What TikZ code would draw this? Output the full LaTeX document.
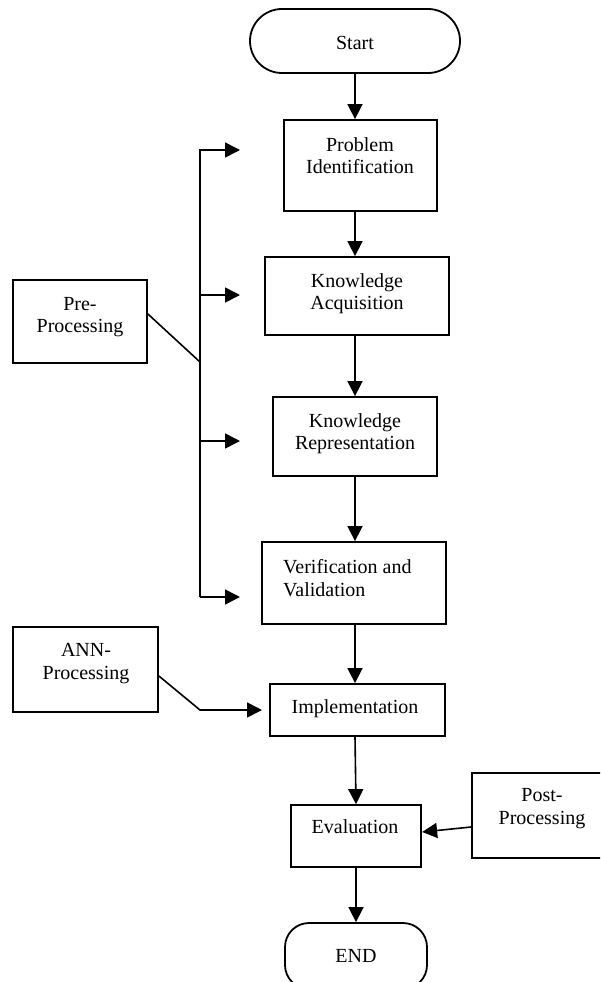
\documentclass[tikz,border=0pt]{standalone}
\usepackage{fontspec}
\setmainfont{Liberation Serif}
\usetikzlibrary{arrows.meta}
\begin{document}
\begin{tikzpicture}[x=1pt,y=-1pt,
  box/.style={draw=black, line width=1.8pt, inner sep=0pt},
  txt/.style={font=\fontsize{20}{22.5}\selectfont, inner sep=0pt, align=center},
  ln/.style={line width=1.6pt},
  arr/.style={line width=1.6pt, -{Triangle[length=15pt,width=15pt]}}]
\useasboundingbox (0,0) rectangle (600,982);
\clip (0,0) rectangle (600,982);
% main column boxes
\node[box, rounded corners=32pt, minimum width=210pt, minimum height=64pt] (start) at (355,41) {};
\node[txt, anchor=base] (startT) at (355,49) {Start};
\node[box, minimum width=153pt, minimum height=91pt] (pi) at (360.5,165.5) {};
\node[txt, anchor=north] (piT) at (360,137.3) {Problem\\Identification};
\node[box, minimum width=184pt, minimum height=78pt] (ka) at (357,296) {};
\node[txt, anchor=north] (kaT) at (357,273.3) {Knowledge\\Acquisition};
\node[box, minimum width=164pt, minimum height=79pt] (kr) at (355,436.5) {};
\node[txt, anchor=north] (krT) at (355,413.3) {Knowledge\\Representation};
\node[box, minimum width=184pt, minimum height=82pt] (vv) at (354,583) {};
\node[txt, align=left, anchor=north west] (vvT) at (283,559.3) {Verification and\\Validation};
\node[box, minimum width=175pt, minimum height=52pt] (impl) at (357.5,710) {};
\node[txt, anchor=base] (implT) at (355,713) {Implementation};
\node[box, minimum width=130.5pt, minimum height=62pt] (eval) at (356,836) {};
\node[txt, anchor=base] (evalT) at (355,833) {Evaluation};
\node[box, rounded corners=24pt, minimum width=142pt, minimum height=66pt] (endb) at (356,956) {};
\node[txt, anchor=base] (endT) at (356,962) {END};
% side boxes
\node[box, minimum width=134pt, minimum height=83pt] (pre) at (80,321.5) {};
\node[txt, anchor=north] (preT) at (80,296.8) {Pre-\\Processing};
\node[box, minimum width=145pt, minimum height=85pt] (ann) at (85.5,669.5) {};
\node[txt, anchor=north] (annT) at (86,643.5) {ANN-\\Processing};
\node[box, minimum width=131pt, minimum height=85pt] (post) at (537.5,815.5) {};
\node[txt, anchor=north] (postT) at (542,788.5) {Post-\\Processing};
% main flow
\draw[arr] (start.south) -- (start.south |- pi.north);
\draw[arr] (start.south |- pi.south) -- (start.south |- ka.north);
\draw[arr] (start.south |- ka.south) -- (start.south |- kr.north);
\draw[arr] (start.south |- kr.south) -- (start.south |- vv.north);
\draw[arr] (start.south |- vv.south) -- (start.south |- impl.north);
\draw[arr] (start.south |- impl.south) -- (eval.north);
\draw[arr] (eval.south) -- (eval.south |- endb.north);
% pre-processing bracket
\coordinate (bt) at (200,150);
\coordinate (bb) at (200,597);
\coordinate (bj) at (200,362);
\coordinate (a1) at (240,150);
\coordinate (a2) at (240,295);
\coordinate (a3) at (240,441);
\coordinate (a4) at (240,597);
\draw[ln] ([yshift=7.5pt]pre.east) -- (bj);
\draw[arr] (bb) -- (bt) -- (a1);
\draw[arr] (bt |- a2) -- (a2);
\draw[arr] (bt |- a3) -- (a3);
\draw[arr] (bb) -- (a4);
% ANN
\coordinate (ak) at (200,710);
\coordinate (ae) at (262,710);
\draw[arr] ([yshift=-6.5pt]ann.east) -- (ak) -- (ae);
% Post
\draw[arr] ([yshift=-11.5pt]post.west) -- ([yshift=4pt]eval.east);
\end{tikzpicture}
\end{document}
